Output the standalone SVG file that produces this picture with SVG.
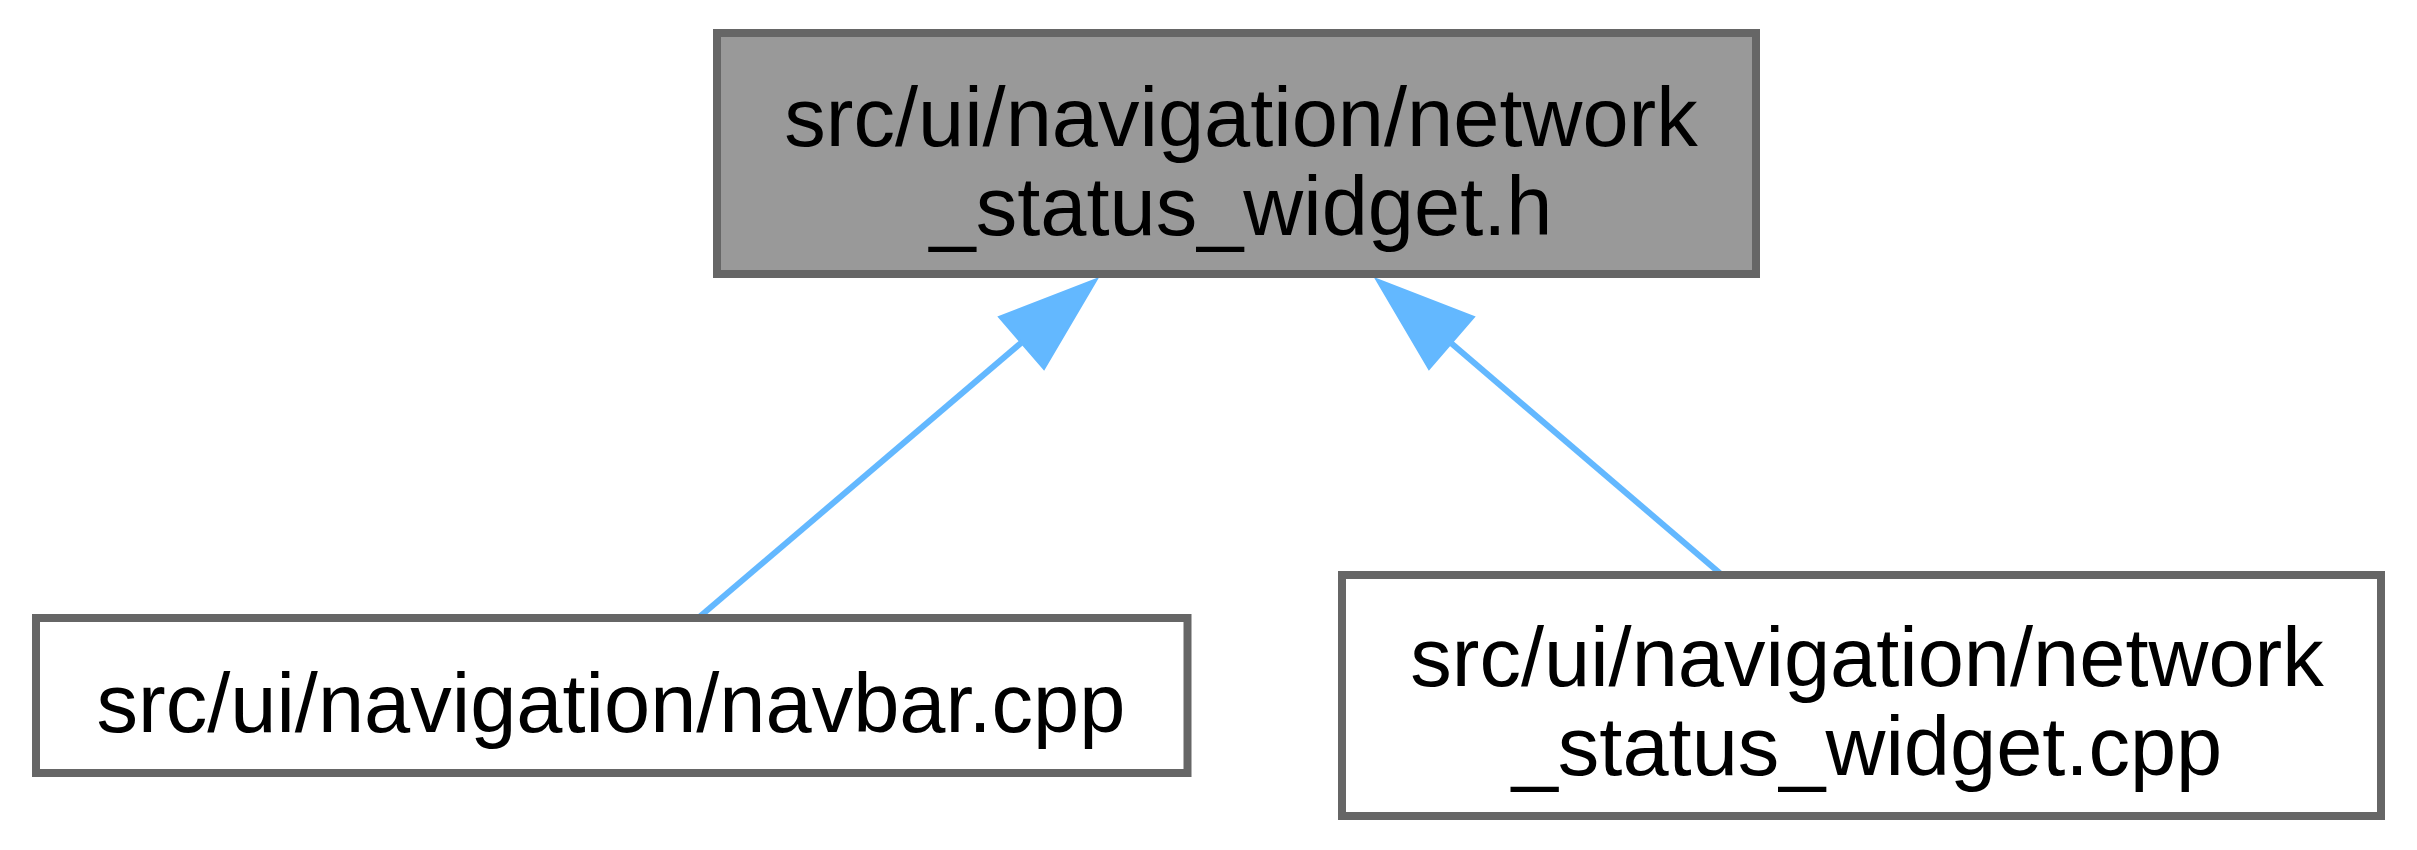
<svg xmlns="http://www.w3.org/2000/svg" width="2417" height="850" viewBox="0 0 2417 850">
<style>
.node rect{stroke:#666666;stroke-width:8}
.main rect{fill:#999999}
.plain rect{fill:#ffffff}
text{font-family:"Liberation Sans",Arial,Helvetica,sans-serif;font-size:83px;fill:#000000;text-anchor:middle}
.edge line{stroke:#63b8ff;stroke-width:6}
.edge polygon{fill:#63b8ff;stroke:#63b8ff;stroke-width:2}
</style>
<rect x="0" y="0" width="2417" height="850" fill="#ffffff"/>
<g id="connectors">
<g class="edge" id="edge-navbar">
<line x1="1021" y1="343" x2="697" y2="619"/>
<polygon points="1097,279 999,317 1044,369"/>
</g>
<g class="edge" id="edge-widget-cpp">
<line x1="1451" y1="343" x2="1722" y2="575"/>
<polygon points="1376,279 1474,317 1429,369"/>
</g>
</g>
<g class="node main" id="node-network-status-widget-h">
<rect x="717" y="33" width="1039" height="241"/>
<text x="1241" y="146">src/ui/navigation/network</text>
<text x="1241" y="235">_status_widget.h</text>
</g>
<g class="node plain" id="node-navbar-cpp">
<rect x="36" y="618" width="1151.5" height="155"/>
<text x="611" y="732">src/ui/navigation/navbar.cpp</text>
</g>
<g class="node plain" id="node-network-status-widget-cpp">
<rect x="1342" y="575" width="1039" height="241"/>
<text x="1867" y="686">src/ui/navigation/network</text>
<text x="1867" y="775">_status_widget.cpp</text>
</g>
</svg>
